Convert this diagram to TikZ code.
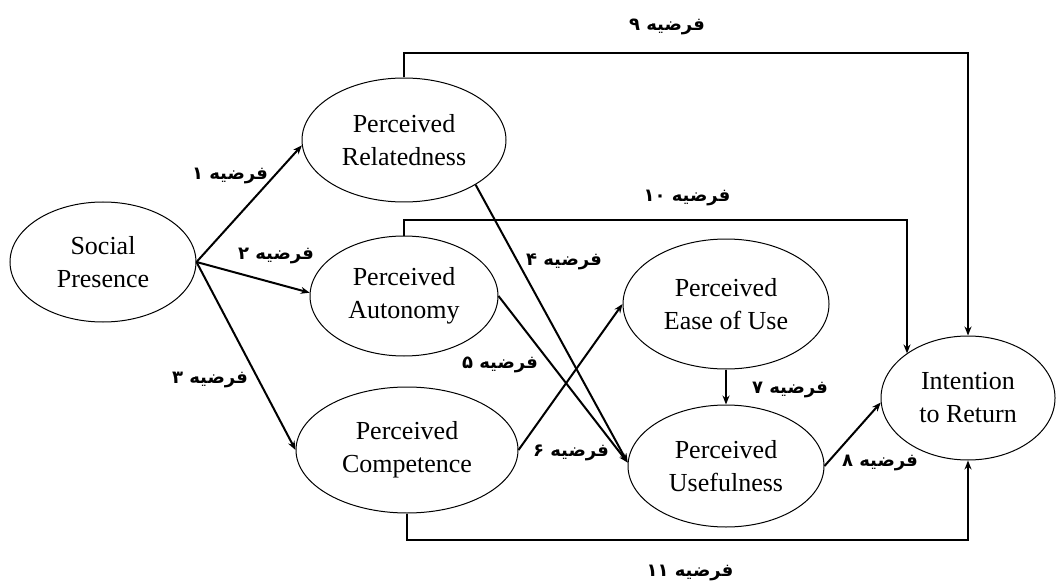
\documentclass[tikz,border=0pt]{standalone}
\usepackage{fontspec}
\setmainfont{Liberation Serif}
\newfontfamily\fa[Script=Arabic]{DejaVu Sans}
\TeXXeTstate=1
\usetikzlibrary{shapes.geometric,arrows.meta}
\begin{document}
\begin{tikzpicture}[x=1pt,y=-1pt,
  el/.style={ellipse,draw,line width=1pt,inner sep=0pt,align=center,
     font=\fontsize{26}{33}\selectfont},
  arr/.style={line width=2pt,-{Stealth[length=9pt,width=7pt]}},
  boxl/.style={line width=2.5pt,-{Stealth[length=9pt,width=7pt]}},
  lab/.style={font=\fa\bfseries\fontsize{18}{22}\selectfont,inner sep=0pt}]
\useasboundingbox (0,0) rectangle (1056,585);
\node[el,minimum width=186pt,minimum height=120pt] (soc) at (103,262) {Social\\Presence};
\node[el,minimum width=204pt,minimum height=124pt] (rel) at (404,140) {Perceived\\Relatedness};
\node[el,minimum width=188pt,minimum height=120pt] (aut) at (404,296) {Perceived\\Autonomy};
\node[el,minimum width=222pt,minimum height=126pt] (comp) at (407,450) {Perceived\\Competence};
\node[el,minimum width=206pt,minimum height=130pt] (ease) at (726,304) {Perceived\\Ease of Use};
\node[el,minimum width=196pt,minimum height=122pt] (use) at (726,466) {Perceived\\Usefulness};
\node[el,minimum width=174pt,minimum height=124pt] (int) at (968,398) {Intention\\to Return};
\coordinate (c9) at (0,53);
\coordinate (c10) at (907,220);
\coordinate (c11) at (0,540);
\draw[arr] (soc.east) -- (rel.183);
\draw[arr] (soc.east) -- (aut.178);
\draw[arr] (soc.east) -- (comp.west);
\draw[arr] (rel.-32) -- (use.178);
\draw[arr] (aut.east) -- (use.178);
\draw[arr] (comp.east) -- (ease.west);
\draw[arr] (ease.south) -- (use.north);
\draw[arr] (use.east) -- (int.183);
\draw[boxl] (rel.north) |- (int.north |- c9) -- (int.north);
\draw[boxl] (aut.north) |- (c10) -- (c10 |- int.144);
\draw[boxl] (comp.south) |- (int.south |- c11) -- (int.south);
\node[lab] (l1) at (230,176) {\beginR فرضیه ۱\endR};
\node[lab] (l2) at (276,256) {\beginR فرضیه ۲\endR};
\node[lab] (l3) at (210,380) {\beginR فرضیه ۳\endR};
\node[lab] (l4) at (564,262) {\beginR فرضیه ۴\endR};
\node[lab] (l5) at (500,365) {\beginR فرضیه ۵\endR};
\node[lab] (l6) at (571,453) {\beginR فرضیه ۶\endR};
\node[lab] (l7) at (790,390) {\beginR فرضیه ۷\endR};
\node[lab] (l8) at (880,463) {\beginR فرضیه ۸\endR};
\node[lab] (l9) at (667,27) {\beginR فرضیه ۹\endR};
\node[lab] (l10) at (687,198) {\beginR فرضیه \beginL۱۰\endL\endR};
\node[lab] (l11) at (690,573) {\beginR فرضیه \beginL۱۱\endL\endR};
\end{tikzpicture}
\end{document}
